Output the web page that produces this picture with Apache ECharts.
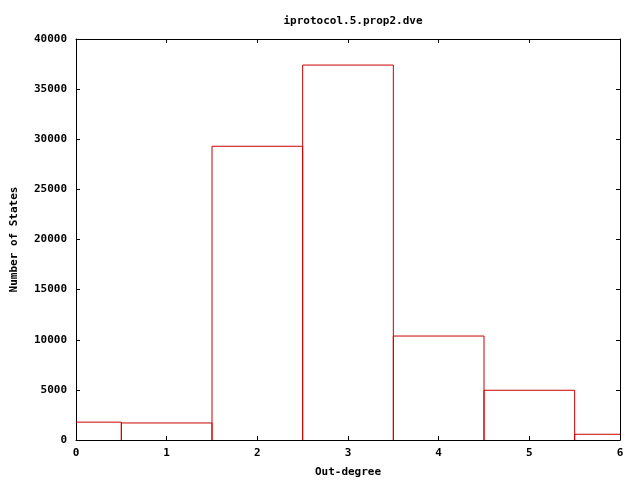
<!DOCTYPE html>
<html>
<head>
<meta charset="utf-8">
<script src="https://cdn.jsdelivr.net/npm/echarts@6/dist/echarts.min.js"></script>
<style>
  html, body { margin: 0; padding: 0; background: #fff; }
</style>
</head>
<body>
<div id="main" style="width: 640px; height: 480px;"></div>
<script>
// 出度 -> 状态数
var degrees = [0, 1, 2, 3, 4, 5, 6];
var stateCounts = [1780, 1700, 29300, 37400, 10370, 4960, 570];

var font = 'DejaVu Sans Mono';
var chart = echarts.init(document.getElementById('main'));

var boxes = degrees.map(function (d, i) { return [d, stateCounts[i]]; });

var textStyle = { fontFamily: font, fontSize: 11, fontWeight: 'bold', color: '#000' };

var option = {
  animation: false,
  title: {
    text: 'iprotocol.5.prop2.dve',
    left: 348,
    top: 11,
    textAlign: 'center',
    textStyle: textStyle
  },
  grid: { left: 76, right: 20, top: 39, bottom: 40, outerBoundsMode: 'none' },
  xAxis: [
    {
      type: 'value', min: 0, max: 6, interval: 1,
      name: 'Out-degree', nameLocation: 'middle', nameGap: 27,
      nameTextStyle: textStyle,
      axisLine: { onZero: false, lineStyle: { color: '#000', width: 1 } },
      axisTick: { inside: true, length: 4, lineStyle: { color: '#000' } },
      axisLabel: Object.assign({ margin: 8 }, textStyle),
      splitLine: { show: false }
    },
    {
      type: 'value', min: 0, max: 6, interval: 1, position: 'top',
      axisLine: { onZero: false, lineStyle: { color: '#000', width: 1 } },
      axisTick: { inside: true, length: 4, lineStyle: { color: '#000' } },
      axisLabel: { show: false },
      splitLine: { show: false }
    }
  ],
  yAxis: [
    {
      type: 'value', min: 0, max: 40000, interval: 5000,
      name: 'Number of States', nameLocation: 'middle', nameGap: 56, nameRotate: 90,
      nameTextStyle: textStyle,
      axisLine: { show: true, onZero: false, lineStyle: { color: '#000', width: 1 } },
      axisTick: { show: true, inside: true, length: 4, lineStyle: { color: '#000' } },
      axisLabel: Object.assign({ margin: 9, formatter: function (v) { return String(v); } }, textStyle),
      splitLine: { show: false }
    },
    {
      type: 'value', min: 0, max: 40000, interval: 5000, position: 'right',
      axisLine: { show: true, onZero: false, lineStyle: { color: '#000', width: 1 } },
      axisTick: { show: true, inside: true, length: 4, lineStyle: { color: '#000' } },
      axisLabel: { show: false },
      splitLine: { show: false }
    }
  ],
  series: [
    {
      type: 'custom',
      xAxisIndex: 0,
      yAxisIndex: 0,
      z: 1,
      data: boxes,
      renderItem: function (params, api) {
        var x = api.value(0);
        var y = api.value(1);
        var cs = params.coordSys;
        var p0 = api.coord([x - 0.5, y]);
        var p1 = api.coord([x + 0.5, 0]);
        var x0 = Math.max(p0[0], cs.x);
        var x1 = Math.min(p1[0], cs.x + cs.width);
        var pts = [];
        // 仅在绘图区内画竖边
        if (p0[0] >= cs.x) pts.push([x0, p1[1]]);
        pts.push([x0, p0[1]]);
        pts.push([x1, p0[1]]);
        if (p1[0] <= cs.x + cs.width) pts.push([x1, p1[1]]);
        return {
          type: 'polyline',
          shape: { points: pts },
          style: { fill: 'none', stroke: '#cc0000', lineWidth: 1 }
        };
      }
    }
  ]
};

chart.setOption(option);
</script>
</body>
</html>
